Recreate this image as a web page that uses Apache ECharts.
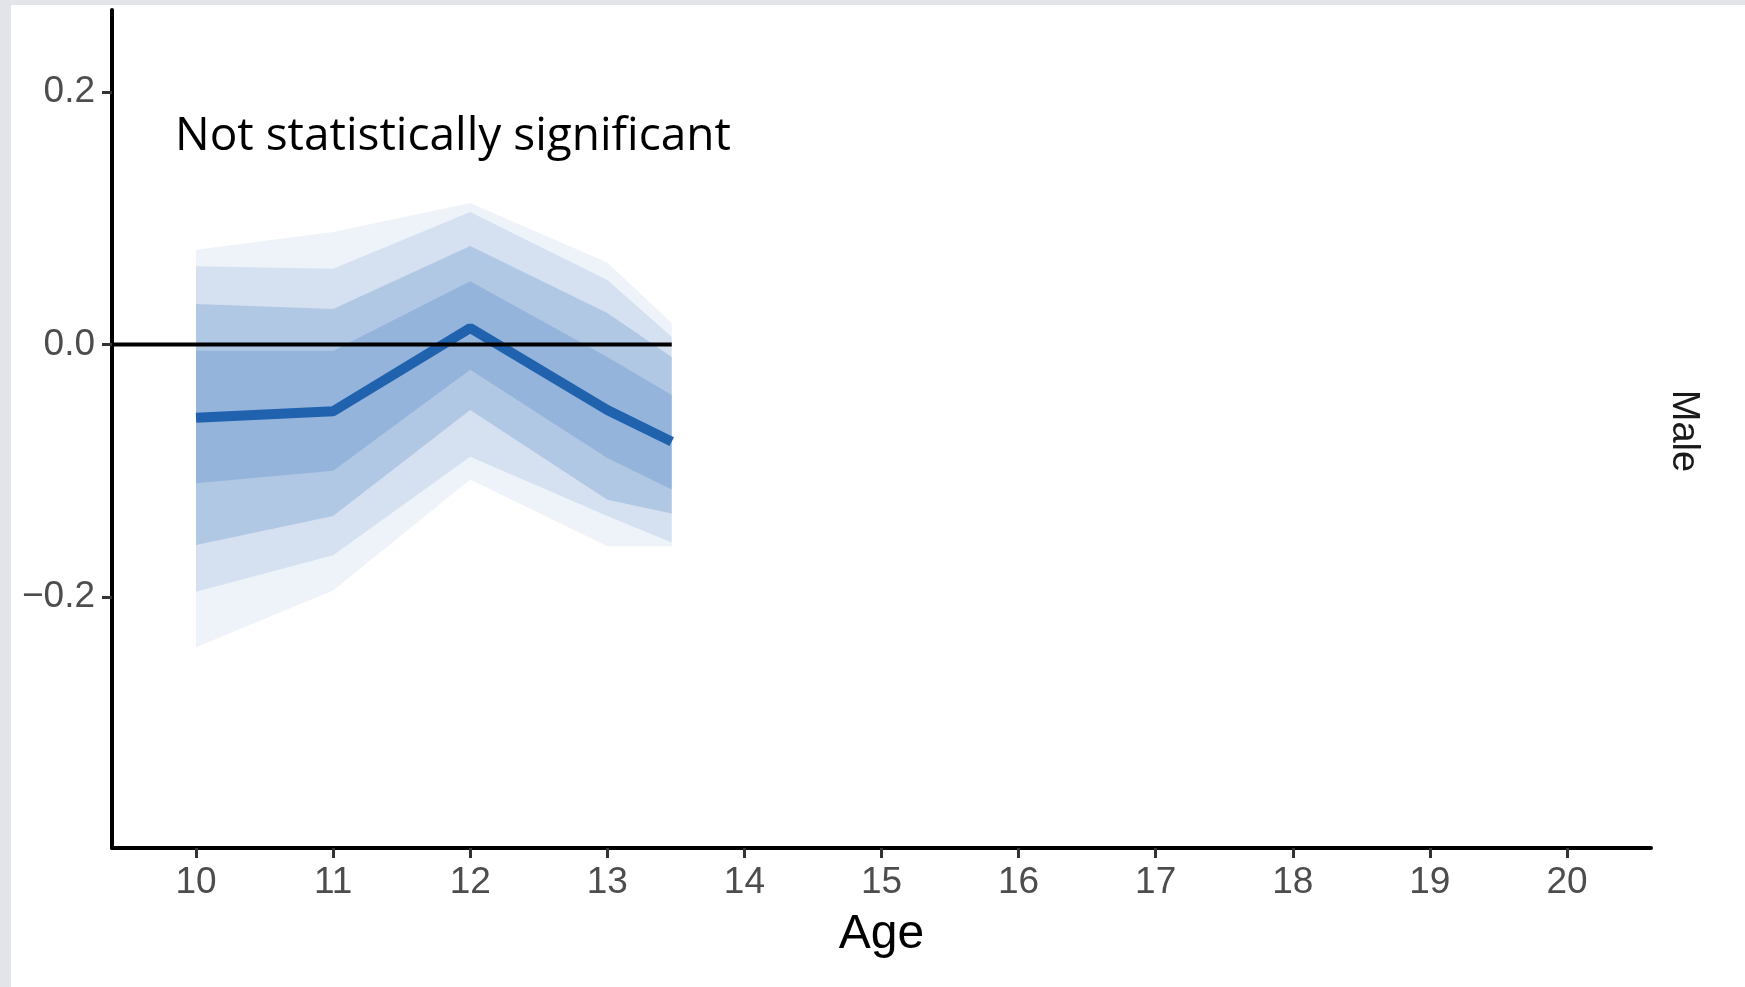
<!DOCTYPE html>
<html>
<head>
<meta charset="utf-8">
<script src="https://cdn.jsdelivr.net/npm/echarts@6/dist/echarts.min.js"></script>
<style>
  html, body { margin: 0; padding: 0; background: #ffffff; }
  #c { width: 1745px; height: 987px; }
</style>
</head>
<body>
<div id="c"></div>
<script>
// ---- data ----
const ages = [10, 11, 12, 13, 13.47];
const meanEffect = [-0.058, -0.053, 0.013, -0.052, -0.077];
// nested uncertainty bands (outer faint -> inner core)
const outerLo = [-0.240, -0.195, -0.107, -0.160, -0.160];
const outerHi = [0.075, 0.089, 0.112, 0.065, 0.017];
const lightLo = [-0.196, -0.167, -0.089, -0.136, -0.157];
const lightHi = [0.062, 0.060, 0.105, 0.051, 0.006];
const midLo = [-0.159, -0.136, -0.052, -0.123, -0.134];
const midHi = [0.032, 0.028, 0.078, 0.025, -0.010];
const coreLo = [-0.110, -0.100, -0.020, -0.090, -0.115];
const coreHi = [-0.005, -0.005, 0.050, -0.010, -0.040];
const zeroLineX = [9.387, 13.47];
const xTicks = [10, 11, 12, 13, 14, 15, 16, 17, 18, 19, 20];
const yTicks = [-0.2, 0.0, 0.2];
const xRange = [9.387, 20.613];
const yRange = [-0.399, 0.265];

const ribbons = [
  { lo: outerLo, hi: outerHi, alpha: 0.08 },
  { lo: lightLo, hi: lightHi, alpha: 0.12 },
  { lo: midLo, hi: midHi, alpha: 0.20 },
  { lo: coreLo, hi: coreHi, alpha: 0.20 }
];

const chart = echarts.init(document.getElementById('c'), null, { renderer: 'canvas' });
const tickFont = 'Liberation Sans, Arial, Helvetica, sans-serif';

const option = {
  animation: false,
  backgroundColor: '#ffffff',
  grid: { left: 112, right: 94, top: 10, bottom: 139, containLabel: false },
  xAxis: {
    type: 'value',
    min: xRange[0], max: xRange[1],
    name: 'Age',
    nameLocation: 'middle',
    nameGap: 63,
    nameTextStyle: { fontFamily: tickFont, fontSize: 48, color: '#000000' },
    axisLine: { show: true, onZero: false, lineStyle: { color: '#000000', width: 4 } },
    axisTick: { show: true, customValues: xTicks, length: 10, lineStyle: { color: '#333333', width: 3 } },
    axisLabel: { customValues: xTicks, fontFamily: tickFont, fontSize: 37, color: '#4d4d4d', margin: 16 },
    splitLine: { show: false }
  },
  yAxis: {
    type: 'value',
    min: yRange[0], max: yRange[1],
    axisLine: { show: true, onZero: false, lineStyle: { color: '#000000', width: 4 } },
    axisTick: { show: true, customValues: yTicks, length: 10, lineStyle: { color: '#333333', width: 3 } },
    axisLabel: {
      customValues: yTicks, fontFamily: tickFont, fontSize: 37, color: '#4d4d4d', margin: 17,
      formatter: v => (v < 0 ? '\u2212' : '') + Math.abs(v).toFixed(1)
    },
    splitLine: { show: false }
  },
  graphic: [
    { type: 'rect', left: 0, top: 0, shape: { width: 1745, height: 5 }, style: { fill: '#e3e4e9' }, z: 100 },
    { type: 'rect', left: 0, top: 0, shape: { width: 11, height: 987 }, style: { fill: '#e3e4e9' }, z: 100 },
    {
      type: 'text', left: 175, top: 114, z: 100,
      style: { text: 'Not statistically significant', fontFamily: 'Open Sans, Lato, sans-serif', fontSize: 46, fill: '#000000' }
    },
    {
      type: 'text', x: 1683, y: 431, rotation: -Math.PI / 2, z: 100,
      style: { text: 'Male', fontFamily: tickFont, fontSize: 38, fill: '#1a1a1a', align: 'center', verticalAlign: 'middle' }
    }
  ],
  series: [
    {
      type: 'custom',
      silent: true,
      z: 1,
      data: ribbons.map((r, i) => [ages[0], r.lo[0], i]),
      encode: { x: 0, y: 1 },
      renderItem: (params, api) => {
        const r = ribbons[params.dataIndex];
        const pts = [];
        ages.forEach((a, i) => pts.push(api.coord([a, r.hi[i]])));
        for (let i = ages.length - 1; i >= 0; i--) pts.push(api.coord([ages[i], r.lo[i]]));
        return { type: 'polygon', shape: { points: pts }, style: { fill: 'rgba(35,100,185,' + r.alpha + ')' } };
      }
    },
    {
      type: 'line',
      z: 3,
      data: ages.map((a, i) => [a, meanEffect[i]]),
      showSymbol: false, symbol: 'none',
      lineStyle: { color: '#2062ae', width: 10 }
    },
    {
      type: 'line',
      z: 4,
      data: zeroLineX.map(x => [x, 0]),
      showSymbol: false, symbol: 'none',
      lineStyle: { color: '#000000', width: 4 }
    }
  ]
};
chart.setOption(option);
</script>
</body>
</html>
